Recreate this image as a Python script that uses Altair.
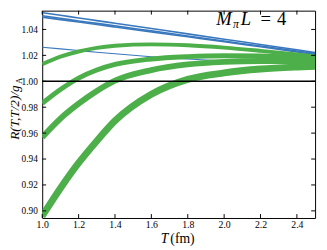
import altair as alt
import pandas as pd

# ---- data ----
T = [1.0, 1.1, 1.2, 1.3, 1.4, 1.6, 1.8, 2.0, 2.2, 2.4, 2.5]

blue_a = [1.0530, 1.0509, 1.0489, 1.0468, 1.0448, 1.0407, 1.0366, 1.0325, 1.0284, 1.0243, 1.0222]
blue_b = [1.0505, 1.0486, 1.0466, 1.0447, 1.0428, 1.0389, 1.0350, 1.0311, 1.0272, 1.0234, 1.0215]
blue_c = [1.0495, 1.0476, 1.0457, 1.0438, 1.0419, 1.0381, 1.0343, 1.0305, 1.0266, 1.0227, 1.0208]
blue_d = [1.0263, 1.0250, 1.0237, 1.0224, 1.0212, 1.0190, 1.0172, 1.0157, 1.0145, 1.0135, 1.0130]

green_1 = [1.0132, 1.0190, 1.0230, 1.0258, 1.0274, 1.0285, 1.0278, 1.0260, 1.0235, 1.0207, 1.0192]
green_2 = [0.9830, 0.9937, 1.0025, 1.0087, 1.0130, 1.0172, 1.0190, 1.0197, 1.0195, 1.0185, 1.0178]
green_3 = [0.9568, 0.9712, 0.9827, 0.9925, 1.0005, 1.0087, 1.0130, 1.0150, 1.0157, 1.0157, 1.0154]
green_4 = [0.8960, 0.9175, 0.9370, 0.9540, 0.9695, 0.9900, 1.0015, 1.0065, 1.0095, 1.0110, 1.0115]

x_ticks = [1.0, 1.2, 1.4, 1.6, 1.8, 2.0, 2.2, 2.4]
y_ticks = [0.90, 0.92, 0.94, 0.96, 0.98, 1.00, 1.02, 1.04]
reference_level = [1.0]

BLUE = "#3a78bd"
GREEN = "#4daf4a"

series = [
    ("ba", blue_a, BLUE, 1.6),
    ("bb", blue_b, BLUE, 1.6),
    ("bc", blue_c, BLUE, 1.6),
    ("bd", blue_d, BLUE, 1.1),
    ("g1", green_1, GREEN, 4.0),
    ("g2", green_2, GREEN, 5.0),
    ("g3", green_3, GREEN, 6.0),
    ("g4", green_4, GREEN, 7.0),
]
rows = []
for name, vals, col, w in series:
    for t, v in zip(T, vals):
        rows.append({"T": t, "R": v, "s": name})
df = pd.DataFrame(rows)

W, H = 279, 212
FONT = "Liberation Serif"

xs = alt.Scale(domain=[1.0, 2.5], nice=False, zero=False)
ys = alt.Scale(domain=[0.8945, 1.0545], nice=False, zero=False)
X = alt.X("T:Q", scale=xs, axis=alt.Axis(values=x_ticks, format=".1f", title=None, grid=False,
                                         domain=False, ticks=False, labelPadding=2, labelFlush=False,
                                         labelFont=FONT, labelFontSize=10, labelColor="black"))
Y = alt.Y("R:Q", scale=ys, axis=alt.Axis(values=y_ticks, format=".2f", title=None, grid=False,
                                         domain=False, ticks=False, labelPadding=5, labelFlush=False,
                                         labelFont=FONT, labelFontSize=9.5, labelColor="black"))

layers = []
for name, vals, col, w in series:
    layers.append(
        alt.Chart(df[df.s == name]).mark_line(color=col, strokeWidth=w, interpolate="monotone",
                                              clip=True).encode(x=X, y=Y)
    )

hline = alt.Chart(pd.DataFrame({"R": reference_level})).mark_rule(color="black", strokeWidth=1.5).encode(y=Y)

xt = pd.DataFrame({"T": x_ticks})
yt = pd.DataFrame({"R": y_ticks})
tick_b = alt.Chart(xt).mark_rule(color="black").encode(x=X, y=alt.value(H), y2=alt.value(H - 4))
tick_t = alt.Chart(xt).mark_rule(color="black").encode(x=X, y=alt.value(0), y2=alt.value(4))
tick_l = alt.Chart(yt).mark_rule(color="black").encode(y=Y, x=alt.value(0), x2=alt.value(4))
tick_r = alt.Chart(yt).mark_rule(color="black").encode(y=Y, x=alt.value(W), x2=alt.value(W - 4))

one = pd.DataFrame({"a": [0]})


def txt(s, x, y, size, style="normal", align="left", angle=0):
    return alt.Chart(one).mark_text(font=FONT, fontSize=size, fontStyle=style, align=align,
                                    baseline="alphabetic", angle=angle, color="black").encode(
        x=alt.value(x), y=alt.value(y), text=alt.value(s))


texts = [
    # x-axis title
    txt("T", 129, 238, 14, "italic", "right"),
    txt("(fm)", 131, 238, 14),
    # y-axis title (rotated)
    txt("R(T,T/2)/g", -24, 132, 13.5, "italic", "left", 270),
    txt("A", -21, 75, 9, "normal", "left", 270),
    # panel label
    txt("M", 178, 14.5, 19, "italic"),
    txt("π", 195, 18, 12, "italic"),
    txt("L", 203, 14.5, 19, "italic"),
    txt("=", 228.5, 14.5, 19, "normal", "center"),
    txt("4", 240, 14.5, 19),
]

chart = alt.layer(*layers, hline, tick_b, tick_t, tick_l, tick_r, *texts).properties(
    width=W, height=H,
    autosize=alt.AutoSizeParams(type="none"),
    padding={"left": 35, "top": 0, "right": 4, "bottom": 30},
).configure_view(stroke="black", strokeWidth=1)

chart.save("out.html", embed_options={"renderer": "svg", "actions": False})
